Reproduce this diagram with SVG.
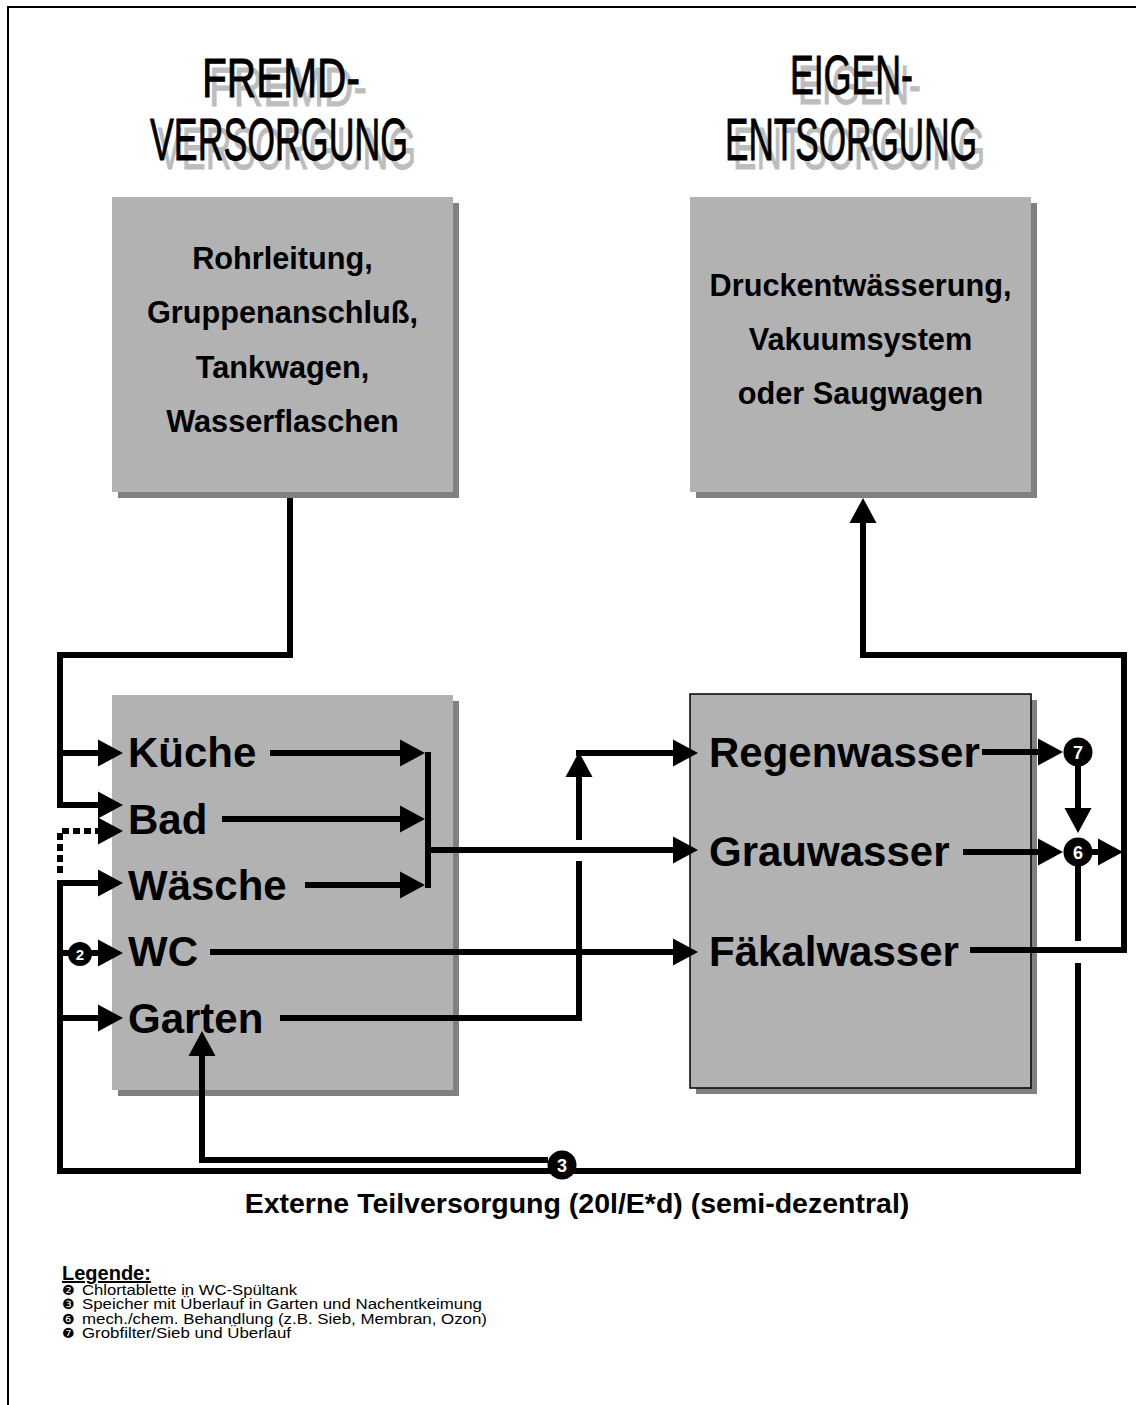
<svg xmlns="http://www.w3.org/2000/svg" width="1136" height="1405" viewBox="0 0 1136 1405">
<style>
.box{fill:#b2b2b2}
.shd{fill:#808080}
.hd{font-family:"Liberation Sans",Arial,sans-serif;font-weight:normal;fill:#000;stroke:#000;stroke-width:0.9}
.hs{font-family:"Liberation Sans",Arial,sans-serif;font-weight:normal;fill:#bdbdbd;stroke:#bdbdbd;stroke-width:0.9}
.t30{font-family:"Liberation Sans",Arial,sans-serif;font-weight:bold;font-size:30.7px;text-anchor:middle;fill:#000}
.lbl{font-family:"Liberation Sans",Arial,sans-serif;font-weight:bold;font-size:42px;fill:#000}
.ln{fill:none;stroke:#000;stroke-width:6;stroke-linejoin:miter;stroke-linecap:butt}
.ar{marker-end:url(#ah)}
.dot{stroke-dasharray:7 4}
.num{font-family:"Liberation Sans",Arial,sans-serif;font-weight:bold;fill:#fff;text-anchor:middle}
.leg{font-family:"Liberation Sans",Arial,sans-serif;font-size:15.3px;fill:#000}
.bul{font-family:"DejaVu Sans",sans-serif;font-size:14px;fill:#000}
</style>
<defs>
<marker id="ah" markerUnits="userSpaceOnUse" markerWidth="26" markerHeight="28" refX="0" refY="13.5" orient="auto" overflow="visible">
<path d="M0,0 L25,13.5 L0,27 z" fill="#000"/>
</marker>
</defs>
<rect x="0" y="0" width="1136" height="1405" fill="#fff"/>
<path d="M8,1405 V7 H1136" fill="none" stroke="#000" stroke-width="2"/>

<g id="heading-fremd">
<text class="hs" x="209" y="106" font-size="56" textLength="158" lengthAdjust="spacingAndGlyphs">FREMD-</text>
<text class="hd" x="202" y="97" font-size="56" textLength="158" lengthAdjust="spacingAndGlyphs">FREMD-</text>
<text class="hs" x="158" y="169" font-size="60" textLength="258" lengthAdjust="spacingAndGlyphs">VERSORGUNG</text>
<text class="hd" x="150" y="160" font-size="60" textLength="258" lengthAdjust="spacingAndGlyphs">VERSORGUNG</text>
</g>
<g id="heading-eigen">
<text class="hs" x="798" y="104" font-size="55" textLength="123" lengthAdjust="spacingAndGlyphs">EIGEN-</text>
<text class="hd" x="790" y="94" font-size="55" textLength="123" lengthAdjust="spacingAndGlyphs">EIGEN-</text>
<text class="hs" x="733" y="169" font-size="60" textLength="252" lengthAdjust="spacingAndGlyphs">ENTSORGUNG</text>
<text class="hd" x="725" y="160" font-size="60" textLength="252" lengthAdjust="spacingAndGlyphs">ENTSORGUNG</text>
</g>

<g id="node-fremdversorgung">
<rect class="shd" x="118" y="203" width="341" height="295"/>
<rect class="box" x="112" y="197" width="341" height="295"/>
<text class="t30" x="282.5" y="269">Rohrleitung,</text>
<text class="t30" x="282.5" y="323">Gruppenanschluß,</text>
<text class="t30" x="282.5" y="378">Tankwagen,</text>
<text class="t30" x="282.5" y="432">Wasserflaschen</text>
</g>

<g id="node-eigenentsorgung">
<rect class="shd" x="696" y="203" width="341" height="295"/>
<rect class="box" x="690" y="197" width="341" height="295"/>
<text class="t30" x="860.5" y="296">Druckentwässerung,</text>
<text class="t30" x="860.5" y="350">Vakuumsystem</text>
<text class="t30" x="860.5" y="404">oder Saugwagen</text>
</g>

<g id="node-verbraucher">
<rect class="shd" x="118" y="701" width="341" height="395"/>
<rect class="box" x="112" y="695" width="341" height="395"/>
<text class="lbl" x="128" y="767">Küche</text>
<text class="lbl" x="128" y="834">Bad</text>
<text class="lbl" x="128" y="900">Wäsche</text>
<text class="lbl" x="128" y="966">WC</text>
<text class="lbl" x="128" y="1033">Garten</text>
</g>

<g id="node-abwasser">
<rect class="shd" x="696" y="700" width="341" height="394"/>
<rect class="box" x="690" y="694" width="341" height="394" stroke="#000" stroke-width="1.5"/>
<text class="lbl" x="709" y="767">Regenwasser</text>
<text class="lbl" x="709" y="866">Grauwasser</text>
<text class="lbl" x="709" y="966">Fäkalwasser</text>
</g>

<g id="connectors">
<path class="ln ar" d="M290,498 V655 H60 V805 H98"/>
<path class="ln ar" d="M60,753 H98"/>
<path class="ln ar dot" d="M60,873 V831 H98"/>
<path class="ln ar" d="M1078,963 V1171 H60 V883 H98"/>
<path class="ln" d="M1078,941 V866"/>
<path class="ln ar" d="M60,953 H98"/>
<path class="ln ar" d="M60,1018 H98"/>
<path class="ln ar" d="M548,1160 H202 V1056"/>
<path class="ln ar" d="M270,753 H400"/>
<path class="ln ar" d="M222,819 H400"/>
<path class="ln ar" d="M305,885 H400"/>
<path class="ln" d="M428,752 V888"/>
<path class="ln ar" d="M428,850 H673"/>
<path class="ln ar" d="M210,952 H673"/>
<path class="ln" d="M280,1018 H579 V861"/>
<path class="ln ar" d="M579,840 V777"/>
<path class="ln ar" d="M576,753 H673"/>
<path class="ln ar" d="M982,752 H1038"/>
<path class="ln ar" d="M963,852 H1038"/>
<path class="ln ar" d="M1078,766 V808"/>
<path class="ln ar" d="M1090,852 H1098"/>
<path class="ln ar" d="M970,950 H1124 V655 H863 V523"/>
</g>

<g id="marker-2">
<circle cx="80" cy="954" r="12" fill="#000"/>
<text class="num" x="80" y="960" font-size="15">2</text>
</g>
<g id="marker-3">
<circle cx="562" cy="1165" r="14.5" fill="#000"/>
<text class="num" x="562" y="1172" font-size="18">3</text>
</g>
<g id="marker-6">
<circle cx="1078" cy="852" r="14.5" fill="#000"/>
<text class="num" x="1078" y="859" font-size="18">6</text>
</g>
<g id="marker-7">
<circle cx="1078" cy="752" r="14.5" fill="#000"/>
<text class="num" x="1078" y="759" font-size="18">7</text>
</g>

<g id="caption">
<text x="577" y="1213" font-family="Liberation Sans, Arial, sans-serif" font-weight="bold" font-size="28.5" text-anchor="middle">Externe Teilversorgung (20l/E*d) (semi-dezentral)</text>
</g>

<g id="legend">
<text x="62" y="1280" font-family="Liberation Sans, Arial, sans-serif" font-weight="bold" font-size="20" text-decoration="underline">Legende:</text>
<text class="leg" y="1294.5"><tspan class="bul" x="62">❷</tspan><tspan x="82" textLength="215" lengthAdjust="spacingAndGlyphs">Chlortablette in WC-Spültank</tspan></text>
<text class="leg" y="1309"><tspan class="bul" x="62">❸</tspan><tspan x="82" textLength="400" lengthAdjust="spacingAndGlyphs">Speicher mit Überlauf in Garten und Nachentkeimung</tspan></text>
<text class="leg" y="1323.5"><tspan class="bul" x="62">❻</tspan><tspan x="82" textLength="405" lengthAdjust="spacingAndGlyphs">mech./chem. Behandlung (z.B. Sieb, Membran, Ozon)</tspan></text>
<text class="leg" y="1338"><tspan class="bul" x="62">❼</tspan><tspan x="82" textLength="209" lengthAdjust="spacingAndGlyphs">Grobfilter/Sieb und Überlauf</tspan></text>
</g>
</svg>
